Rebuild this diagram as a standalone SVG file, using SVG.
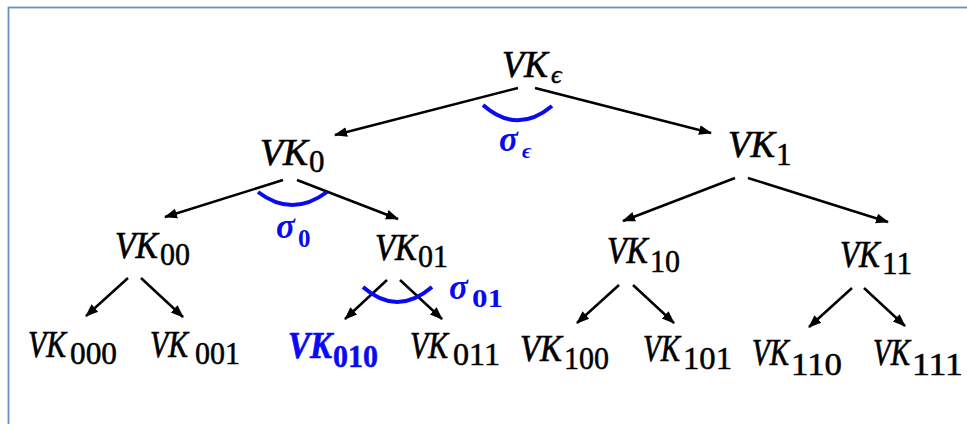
<svg xmlns="http://www.w3.org/2000/svg" width="967" height="424" viewBox="0 0 967 424">
<style>
.vk{font-family:"Liberation Serif","Times New Roman",serif;font-style:italic;font-size:37px;fill:#000;stroke:#000;stroke-width:0.7}
.sub{font-family:"Liberation Serif","Times New Roman",serif;font-style:normal;font-size:31px;stroke-width:0.5}
.eps{font-family:"Liberation Serif","Times New Roman",serif;font-style:italic;font-size:26px;stroke-width:0.5}
.blue{fill:#0a0af0;stroke:#0a0af0;font-weight:bold}
.sig{font-family:"Liberation Serif","Times New Roman",serif;font-style:italic;font-weight:bold;font-size:35px;fill:#0a0af0}
.ssub{font-style:normal;font-size:25px}
.seps{font-style:italic;font-size:22px}
.edge{stroke:#000;stroke-width:2.5;fill:none;marker-end:url(#ah)}
.arc{stroke:#0a0af0;stroke-width:4;fill:none}
</style>
<defs>
<marker id="ah" markerUnits="userSpaceOnUse" markerWidth="14" markerHeight="12" refX="12" refY="6" orient="auto">
<path d="M0,1 L13,6 L0,11 Z" fill="#000"/>
</marker>
</defs>
<rect x="8.5" y="7.5" width="980" height="440" fill="#fff" stroke="#6d8fc7" stroke-width="1.8"/>
<g id="connectors">
<line class="edge" x1="518" y1="88" x2="335" y2="135"/>
<line class="edge" x1="535" y1="88" x2="711" y2="133"/>
<line class="edge" x1="283" y1="180" x2="165" y2="217"/>
<line class="edge" x1="297" y1="180" x2="398" y2="219"/>
<line class="edge" x1="735" y1="178" x2="623" y2="221"/>
<line class="edge" x1="748" y1="178" x2="888" y2="222"/>
<line class="edge" x1="128" y1="278" x2="86" y2="316"/>
<line class="edge" x1="141" y1="278" x2="183" y2="317"/>
<line class="edge" x1="387" y1="280" x2="345" y2="319"/>
<line class="edge" x1="400" y1="280" x2="442" y2="319"/>
<line class="edge" x1="619" y1="285" x2="577" y2="323"/>
<line class="edge" x1="633" y1="285" x2="674" y2="323"/>
<line class="edge" x1="852" y1="288" x2="809" y2="327"/>
<line class="edge" x1="864" y1="288" x2="905" y2="326"/>
</g>
<g id="arcs">
<path class="arc" d="M483,105 Q517,135 552,106"/>
<path class="arc" d="M258,192 Q292,218 327,192"/>
<path class="arc" d="M363,287 Q397,317 432,287"/>
</g>
<g id="sigma_eps"><text class="sig" x="499" y="151">σ<tspan class="seps" x="522" y="158">ϵ</tspan></text></g>
<g id="sigma_0"><text class="sig" x="276" y="238">σ<tspan class="ssub" x="298" y="247">0</tspan></text></g>
<g id="sigma_01"><text class="sig" x="449" y="299">σ<tspan class="ssub" x="472" y="307" textLength="31" lengthAdjust="spacingAndGlyphs">01</tspan></text></g>
<g id="VKe"><text class="vk" y="77"><tspan x="502" textLength="46" lengthAdjust="spacingAndGlyphs">VK</tspan><tspan class="eps" x="551" y="83">ϵ</tspan></text></g>
<g id="VK0"><text class="vk" y="165"><tspan x="260" textLength="48" lengthAdjust="spacingAndGlyphs">VK</tspan><tspan class="sub" x="309" y="172">0</tspan></text></g>
<g id="VK1"><text class="vk" y="157"><tspan x="728" textLength="47" lengthAdjust="spacingAndGlyphs">VK</tspan><tspan class="sub" x="776" y="165">1</tspan></text></g>
<g id="VK00"><text class="vk" y="258"><tspan x="115" textLength="43" lengthAdjust="spacingAndGlyphs">VK</tspan><tspan class="sub" x="160" y="265" textLength="30" lengthAdjust="spacingAndGlyphs">00</tspan></text></g>
<g id="VK01"><text class="vk" y="260"><tspan x="375" textLength="42" lengthAdjust="spacingAndGlyphs">VK</tspan><tspan class="sub" x="418" y="267" textLength="30" lengthAdjust="spacingAndGlyphs">01</tspan></text></g>
<g id="VK10"><text class="vk" y="263"><tspan x="607" textLength="41" lengthAdjust="spacingAndGlyphs">VK</tspan><tspan class="sub" x="650" y="272" textLength="30" lengthAdjust="spacingAndGlyphs">10</tspan></text></g>
<g id="VK11"><text class="vk" y="267"><tspan x="840" textLength="40" lengthAdjust="spacingAndGlyphs">VK</tspan><tspan class="sub" x="882" y="274" textLength="30" lengthAdjust="spacingAndGlyphs">11</tspan></text></g>
<g id="VK000"><text class="vk" y="357"><tspan x="28" textLength="38" lengthAdjust="spacingAndGlyphs">VK</tspan><tspan class="sub" x="70" y="364" textLength="47" lengthAdjust="spacingAndGlyphs">000</tspan></text></g>
<g id="VK001"><text class="vk" y="357"><tspan x="150" textLength="38" lengthAdjust="spacingAndGlyphs">VK</tspan><tspan class="sub" x="195" y="364" textLength="45" lengthAdjust="spacingAndGlyphs">001</tspan></text></g>
<g id="VK010"><text class="vk blue" y="358"><tspan x="288" textLength="44" lengthAdjust="spacingAndGlyphs">VK</tspan><tspan class="sub" x="333" y="367" textLength="45" lengthAdjust="spacingAndGlyphs">010</tspan></text></g>
<g id="VK011"><text class="vk" y="358"><tspan x="410" textLength="38" lengthAdjust="spacingAndGlyphs">VK</tspan><tspan class="sub" x="453" y="365" textLength="47" lengthAdjust="spacingAndGlyphs">011</tspan></text></g>
<g id="VK100"><text class="vk" y="361"><tspan x="520" textLength="42" lengthAdjust="spacingAndGlyphs">VK</tspan><tspan class="sub" x="564" y="369" textLength="45" lengthAdjust="spacingAndGlyphs">100</tspan></text></g>
<g id="VK101"><text class="vk" y="361"><tspan x="643" textLength="37" lengthAdjust="spacingAndGlyphs">VK</tspan><tspan class="sub" x="683" y="369" textLength="49" lengthAdjust="spacingAndGlyphs">101</tspan></text></g>
<g id="VK110"><text class="vk" y="365"><tspan x="752" textLength="37" lengthAdjust="spacingAndGlyphs">VK</tspan><tspan class="sub" x="791" y="375" textLength="51" lengthAdjust="spacingAndGlyphs">110</tspan></text></g>
<g id="VK111"><text class="vk" y="365"><tspan x="873" textLength="37" lengthAdjust="spacingAndGlyphs">VK</tspan><tspan class="sub" x="912" y="375" textLength="51" lengthAdjust="spacingAndGlyphs">111</tspan></text></g>
</svg>
